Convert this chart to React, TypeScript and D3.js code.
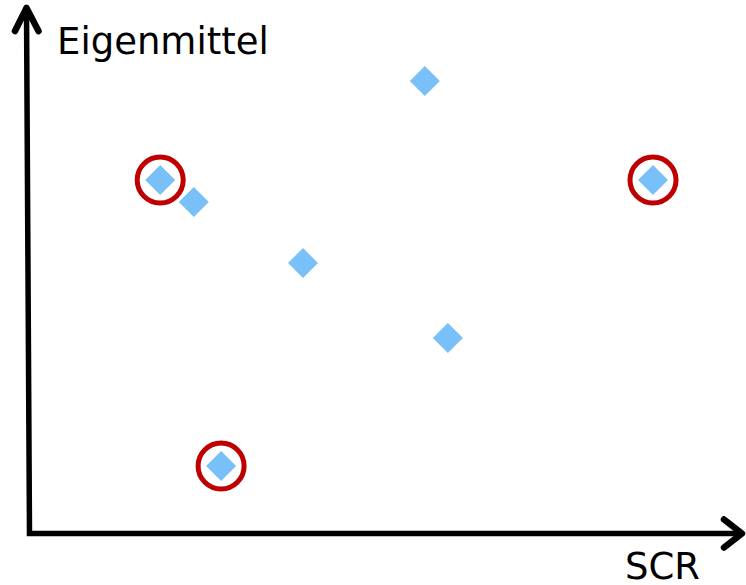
import React from "react";
import * as d3 from "d3";

const scrValues = [18.6, 23.4, 56.4, 39, 59.7, 89, 27.3];
const eigenValues = [70.6, 66.2, 90.4, 54, 39, 70.6, 13.4];
const highlighted = [true, false, false, false, false, true, true];
const xLabel = "SCR";
const yLabel = "Eigenmittel";

const W = 746;
const H = 585;

export default function App() {
  const x = d3.scaleLinear().domain([0, 100]).range([30, 730]);
  const y = d3.scaleLinear().domain([0, 100]).range([533, 33]);
  const ox = 29.5;
  const oy = 533.5;
  const topX = 26.5;
  const diamond = d3.symbol().type(d3.symbolSquare).size(450)() as string;
  const points = scrValues.map((v, i) => ({ x: x(v), y: y(eigenValues[i]), h: highlighted[i] }));
  const font = "'DejaVu Sans', Verdana, sans-serif";
  return (
    <svg width={W} height={H} style={{ position: "absolute", left: 0, top: 0, background: "#fff" }}>
      <g stroke="#000" strokeWidth={5.5} fill="none" strokeLinecap="butt" strokeLinejoin="round">
        <path d={`M${ox},${oy + 2.5} L${topX},${9} M${ox - 2.5},${oy} L${741},${oy}`} />
        <path d={`M${topX - 11.5},${31} L${topX},${8} L${topX + 12},${31}`} strokeLinecap="round" strokeWidth={6.5} />
        <path d={`M${724},${oy - 14} L${742},${oy} L${724},${oy + 14}`} strokeLinecap="round" strokeWidth={6.5} />
      </g>
      <text x={57} y={54} fontFamily={font} fontSize={37} fill="#000">{yLabel}</text>
      <text x={625} y={579} fontFamily={font} fontSize={37} fill="#000">{xLabel}</text>
      {points.map((p, i) => (
        <g key={i} transform={`translate(${p.x},${p.y})`}>
          <path d={diamond} transform="rotate(45)" fill="#78c0f7" />
          {p.h && <circle r={23} fill="none" stroke="#c00000" strokeWidth={5} />}
        </g>
      ))}
    </svg>
  );
}
